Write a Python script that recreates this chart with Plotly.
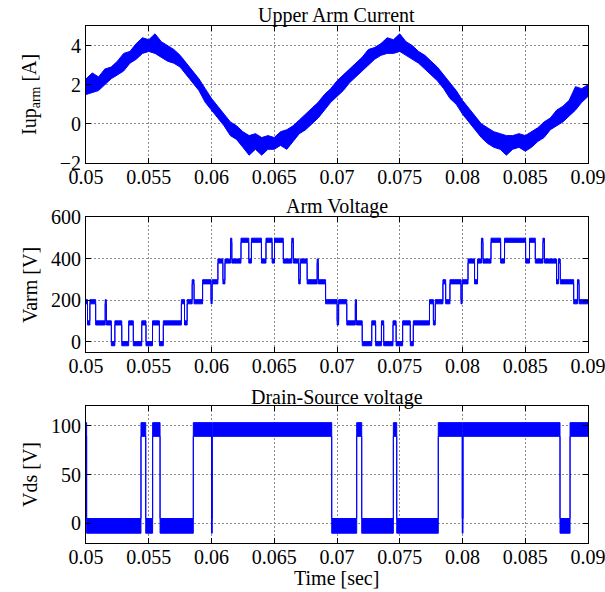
import plotly.graph_objects as go

# ---------------- data ----------------
# Upper arm current: envelope of the noisy trace, sampled every 0.5 ms from 0.05 s to 0.09 s
cur_t = [round(0.05 + i * 0.0005, 4) for i in range(81)]
cur_lo = [1.5, 1.6, 1.7, 2.0, 2.3, 2.5, 2.7, 3.1, 3.3, 3.6,
          3.7, 3.6, 3.4, 3.2, 3.1, 2.9, 2.5, 2.1, 1.7, 1.1,
          0.7, 0.3, -0.1, -0.6, -0.8, -1.2, -1.6, -1.3, -1.6, -1.3,
          -1.3, -1.1, -1.3, -0.9, -0.5, -0.3, 0.0, 0.3, 0.7, 1.1,
          1.4, 1.7, 2.1, 2.4, 2.7, 3.0, 3.3, 3.5, 3.6, 3.6,
          3.7, 3.5, 3.3, 3.1, 2.8, 2.5, 2.2, 1.8, 1.3, 1.0,
          0.5, 0.1, -0.3, -0.7, -1.0, -1.2, -1.3, -1.6, -1.3, -1.2,
          -1.4, -1.2, -0.9, -0.7, -0.3, -0.1, 0.1, 0.4, 0.7, 1.1,
          1.4]
cur_hi = [2.3, 2.6, 2.4, 2.8, 2.9, 3.2, 3.6, 3.7, 4.1, 4.4,
          4.3, 4.6, 4.2, 4.0, 3.8, 3.5, 3.1, 2.7, 2.3, 1.8,
          1.3, 0.9, 0.5, 0.1, -0.1, -0.4, -0.6, -0.5, -0.7, -0.6,
          -0.7, -0.4, -0.3, -0.1, 0.2, 0.5, 0.8, 1.1, 1.5, 1.8,
          2.2, 2.5, 2.8, 3.1, 3.4, 3.8, 3.9, 4.1, 4.4, 4.3,
          4.6, 4.2, 4.0, 3.7, 3.5, 3.2, 2.9, 2.5, 2.1, 1.7,
          1.2, 0.8, 0.4, 0.0, -0.2, -0.4, -0.5, -0.6, -0.6, -0.5,
          -0.6, -0.4, -0.2, 0.1, 0.3, 0.7, 0.9, 1.2, 1.9, 1.8,
          2.0]

# Arm voltage: switching instants [s] and level held from that instant [V]
varm_t = [0.05000, 0.05012, 0.05031, 0.05077, 0.05153, 0.05162, 0.05202, 0.05230, 0.05285, 0.05340,
          0.05377, 0.05444, 0.05478, 0.05530, 0.05585, 0.05616, 0.05760, 0.05785, 0.05806, 0.05846,
          0.05861, 0.05929, 0.05996, 0.06005, 0.06051, 0.06091, 0.06107, 0.06152, 0.06162, 0.06235,
          0.06297, 0.06318, 0.06398, 0.06434, 0.06483, 0.06502, 0.06572, 0.06640, 0.06652, 0.06695,
          0.06707, 0.06762, 0.06842, 0.06851, 0.06909, 0.07001, 0.07013, 0.07078, 0.07146, 0.07155,
          0.07201, 0.07277, 0.07308, 0.07354, 0.07372, 0.07446, 0.07471, 0.07523, 0.07584, 0.07608,
          0.07737, 0.07768, 0.07783, 0.07844, 0.07866, 0.07900, 0.07988, 0.07997, 0.08044, 0.08096,
          0.08120, 0.08151, 0.08163, 0.08227, 0.08304, 0.08335, 0.08503, 0.08534, 0.08580, 0.08641,
          0.08653, 0.08749, 0.08764, 0.08779, 0.08886, 0.08916, 0.08929]
varm_v = [192, 90, 192, 90, 192, 90, -10, 90, -10, 90,
          -10, 90, -10, 90, -10, 90, 192, 90, 192, 288,
          192, 288, 192, 288, 388, 288, 388, 488, 388, 488,
          388, 488, 388, 488, 388, 488, 388, 488, 388, 288,
          388, 288, 388, 288, 192, 90, 192, 90, 192, 90,
          -10, 90, -10, 90, -10, 90, -10, 90, -10, 90,
          192, 90, 192, 288, 192, 288, 192, 288, 388, 288,
          388, 488, 388, 488, 388, 488, 388, 488, 388, 488,
          388, 288, 388, 288, 192, 288, 192]
varm_band = 10  # half-thickness of the noisy trace [V]

# Drain-source voltage: switching instants [s] and state (1 = blocking ~100 V, 0 = conducting ~0 V)
vds_t = [0.05000, 0.05005, 0.05438, 0.05476, 0.05531, 0.05590, 0.05855, 0.06000, 0.06006, 0.06958,
         0.07157, 0.07197, 0.07449, 0.07476, 0.07807, 0.07998, 0.08004, 0.08777, 0.08857]
vds_s = [1, 0, 1, 0, 1, 0, 1, 0, 1, 0,
         1, 0, 1, 0, 1, 0, 1, 0, 1]
vds_low_band = (-10, 5)
vds_high_band = (89, 103)

t_end = 0.09
x_tickvals = [0.05, 0.055, 0.06, 0.065, 0.07, 0.075, 0.08, 0.085, 0.09]
x_ticktext = ["0.05", "0.055", "0.06", "0.065", "0.07", "0.075", "0.08", "0.085", "0.09"]

BLUE = "#0000ff"
FONT = "Liberation Serif, Times New Roman, serif"
W, H = 605, 592


def steps(times, values, end):
    xs, ys = [], []
    for i, (t, v) in enumerate(zip(times, values)):
        t2 = times[i + 1] if i + 1 < len(times) else end
        xs += [t, t2]
        ys += [v, v]
    return xs, ys


fig = go.Figure()

# --- current band
fig.add_trace(go.Scatter(x=cur_t, y=cur_lo, mode="lines", line=dict(color=BLUE, width=1),
                         xaxis="x", yaxis="y", showlegend=False, hoverinfo="skip"))
fig.add_trace(go.Scatter(x=cur_t, y=cur_hi, mode="lines", line=dict(color=BLUE, width=1),
                         fill="tonexty", fillcolor=BLUE, xaxis="x", yaxis="y", showlegend=False))

# --- arm voltage band
xs, ys = steps(varm_t, varm_v, t_end)
fig.add_trace(go.Scatter(x=xs, y=[v - varm_band for v in ys], mode="lines",
                         line=dict(color=BLUE, width=1), xaxis="x2", yaxis="y2",
                         showlegend=False, hoverinfo="skip"))
fig.add_trace(go.Scatter(x=xs, y=[v + varm_band for v in ys], mode="lines",
                         line=dict(color=BLUE, width=1), fill="tonexty", fillcolor=BLUE,
                         xaxis="x2", yaxis="y2", showlegend=False))

# --- drain-source band
lo_vals = [vds_high_band[0] if s else vds_low_band[0] for s in vds_s]
hi_vals = [vds_high_band[1] if s else vds_low_band[1] for s in vds_s]
xs, ylo = steps(vds_t, lo_vals, t_end)
_, yhi = steps(vds_t, hi_vals, t_end)
fig.add_trace(go.Scatter(x=xs, y=ylo, mode="lines", line=dict(color=BLUE, width=1),
                         xaxis="x3", yaxis="y3", showlegend=False, hoverinfo="skip"))
fig.add_trace(go.Scatter(x=xs, y=yhi, mode="lines", line=dict(color=BLUE, width=1),
                         fill="tonexty", fillcolor=BLUE, xaxis="x3", yaxis="y3", showlegend=False))

# ---------------- layout ----------------
x0, x1 = 86 / W, 588 / W


def ydom(top, bottom):
    return [1 - bottom / H, 1 - top / H]


common_axis = dict(showline=True, linecolor="black", linewidth=1, mirror="ticks",
                   ticks="inside", ticklen=5, tickcolor="black", automargin=False,
                   showgrid=True, gridcolor="#8c8c8c", griddash="2px,2px", gridwidth=1,
                   zeroline=False, ticklabeloverflow="allow",
                   tickfont=dict(family=FONT, size=20, color="black"))

xcommon = dict(common_axis, range=[0.05 - 1e-9, 0.09 + 1e-9], tickvals=x_tickvals,
               ticktext=x_ticktext, domain=[x0, x1], ticklabelstandoff=-4)

fig.update_layout(
    width=W, height=H, margin=dict(l=0, r=0, t=0, b=0, pad=0, autoexpand=False),
    paper_bgcolor="white", plot_bgcolor="white", showlegend=False,
    font=dict(family=FONT, size=20, color="black"),
    xaxis=dict(xcommon, anchor="y"),
    xaxis2=dict(xcommon, anchor="y2"),
    xaxis3=dict(xcommon, anchor="y3"),
    yaxis=dict(common_axis, range=[-2, 5], tickvals=[-2, 0, 2, 4], domain=ydom(26, 163), anchor="x"),
    yaxis2=dict(common_axis, range=[-50, 600], tickvals=[0, 200, 400, 600], domain=ydom(217, 352), anchor="x2"),
    yaxis3=dict(common_axis, range=[-20, 120], tickvals=[0, 50, 100], domain=ydom(406, 543), anchor="x3"),
)

xc = (x0 + x1) / 2
ann = [
    dict(text="Upper Arm Current", x=xc, y=1 - 16 / H),
    dict(text="Arm Voltage", x=xc, y=1 - 206 / H),
    dict(text="Drain-Source voltage", x=xc, y=1 - 397 / H),
    dict(text="Time [sec]", x=xc, y=1 - 578 / H),
    dict(text="Iup<sub>arm</sub> [A]", x=30 / W, y=1 - 95 / H, textangle=-90),
    dict(text="Varm [V]", x=30 / W, y=1 - 285 / H, textangle=-90),
    dict(text="Vds [V]", x=30 / W, y=1 - 475 / H, textangle=-90),
]
for a in ann:
    fig.add_annotation(xref="paper", yref="paper", showarrow=False, xanchor="center",
                       yanchor="middle", font=dict(family=FONT, size=20, color="black"), **a)

fig.write_html("out.html")
